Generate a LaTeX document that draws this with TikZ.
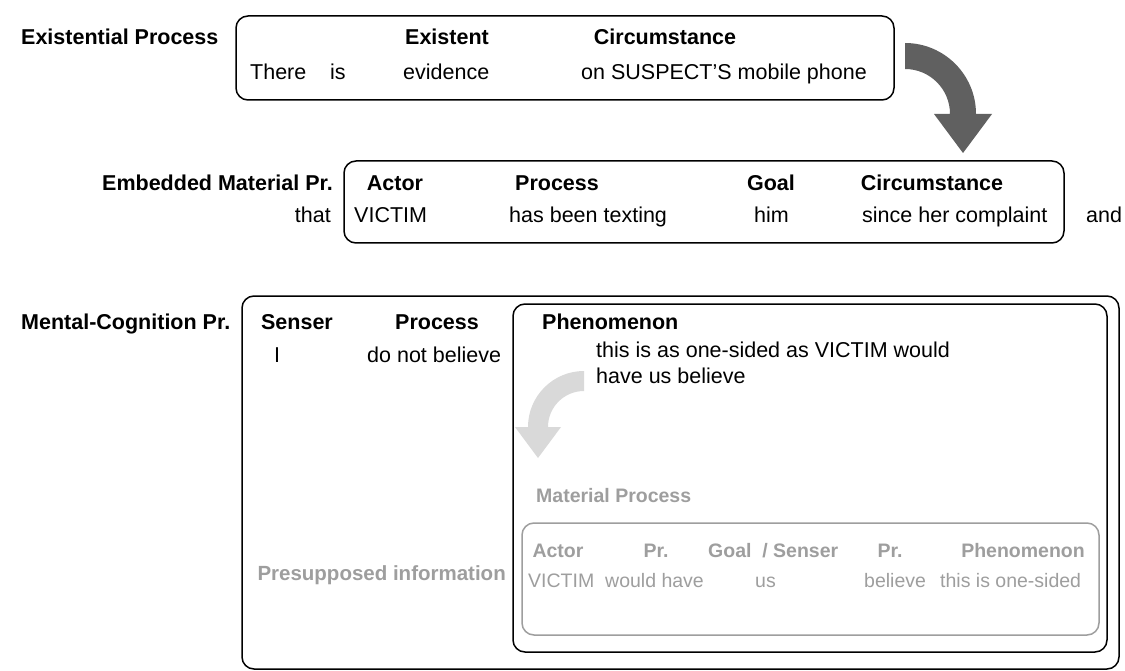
\documentclass[tikz,border=0pt]{standalone}
\usepackage{fontspec}
\setmainfont{Liberation Sans}
\begin{document}
\begin{tikzpicture}[x=1pt,y=-1pt,
  txt/.style={inner sep=0pt,font=\fontsize{21.5}{24}\selectfont},
  hd/.style={txt,font=\fontsize{21.5}{24}\selectfont\bfseries},
  gtxt/.style={inner sep=0pt,text=graytext,font=\fontsize{19.5}{22}\selectfont},
  ghd/.style={gtxt,font=\fontsize{19.5}{22}\selectfont\bfseries},
  blackbox/.style={draw=black,line width=1.5pt,rounded corners=12pt},
  graybox/.style={draw=graytext,line width=1.5pt,rounded corners=12pt},
]
\definecolor{graytext}{HTML}{9E9E9E}
\definecolor{darkarrow}{HTML}{606060}
\definecolor{lightarrow}{HTML}{D9D9D9}
\useasboundingbox[fill=white] (0,0) rectangle (1125,671);

% boxes
\draw[blackbox] (236,16) rectangle (894,100);
\draw[blackbox] (344,161) rectangle (1064,243);
\draw[blackbox] (242,296) rectangle (1119,669);
\draw[blackbox] (513,304) rectangle (1107,652);
\draw[graybox] (522,523) rectangle (1099,635);

% dark curved arrow
\fill[darkarrow] (905,43) .. controls (944.2,43) and (976,74.8) .. (976,114)
  -- (992,114) -- (963,153) -- (934,114) -- (950,114)
  .. controls (950,89.1) and (929.9,69) .. (905,69) -- cycle;

% light curved arrow
\fill[lightarrow] (584,371) .. controls (553.1,371) and (528,396.1) .. (528,427)
  -- (515,427) -- (538,458) -- (561,427) -- (548,427)
  .. controls (548,407.1) and (564.1,391) .. (584,391) -- cycle;

% Existential process
\node[hd,anchor=base west] (ex0) at (21,45) {Existential Process};
\node[hd,anchor=base] (ex1) at (447,45) {Existent};
\node[hd,anchor=base] (ex2) at (665,45) {Circumstance};
\node[txt,anchor=base west] (ex3) at (250,80) {There};
\node[txt,anchor=base west] (ex4) at (330,80) {is};
\node[txt,anchor=base west] (ex5) at (403,80) {evidence};
\node[txt,anchor=base west] (ex6) at (581,80) {on SUSPECT’S mobile phone};

% Embedded material process
\node[hd,anchor=base east] (em0) at (333,191) {Embedded Material Pr.};
\node[hd,anchor=base] (em1) at (395,191) {Actor};
\node[hd,anchor=base] (em2) at (557,191) {Process};
\node[hd,anchor=base] (em3) at (771,191) {Goal};
\node[hd,anchor=base] (em4) at (932,191) {Circumstance};
\node[txt,anchor=base east] (em5) at (331,223) {that};
\node[txt,anchor=base west] (em6) at (354,223) {VICTIM};
\node[txt,anchor=base west] (em7) at (509,223) {has been texting};
\node[txt,anchor=base west] (em8) at (754,223) {him};
\node[txt,anchor=base west] (em9) at (862,223) {since her complaint};
\node[txt,anchor=base west] (em10) at (1086,223) {and};

% Mental cognition
\node[hd,anchor=base west] (mc0) at (21,329) {Mental-Cognition Pr.};
\node[hd,anchor=base] (mc1) at (297,329) {Senser};
\node[hd,anchor=base] (mc2) at (437,329) {Process};
\node[txt,anchor=base west] (mc3) at (274,362) {I};
\node[txt,anchor=base west] (mc4) at (367,362) {do not believe};
\node[hd,anchor=base west] (ph0) at (542,329) {Phenomenon};
\node[txt,anchor=base west] (ph1) at (596,357) {this is as one-sided as VICTIM would};
\node[txt,anchor=base west] (ph2) at (596,383) {have us believe};

% presupposed material process
\node[ghd,anchor=base west] (mp0) at (536,502) {Material Process};
\node[ghd,anchor=base east,font=\fontsize{20.5}{23}\selectfont\bfseries] (ps0) at (506,580) {Presupposed information};
\node[ghd,anchor=base] (mp1) at (558,557) {Actor};
\node[ghd,anchor=base] (mp2) at (656,557) {Pr.};
\node[ghd,anchor=base west] (mp3) at (708,557) {Goal\ \ / Senser};
\node[ghd,anchor=base] (mp4) at (890,557) {Pr.};
\node[ghd,anchor=base] (mp5) at (1023,557) {Phenomenon};
\node[gtxt,anchor=base west] (mp6) at (528,587) {VICTIM};
\node[gtxt,anchor=base west] (mp7) at (605,587) {would have};
\node[gtxt,anchor=base west] (mp8) at (755,587) {us};
\node[gtxt,anchor=base west] (mp9) at (864,587) {believe};
\node[gtxt,anchor=base west] (mp10) at (940,587) {this is one-sided};
\end{tikzpicture}
\end{document}
